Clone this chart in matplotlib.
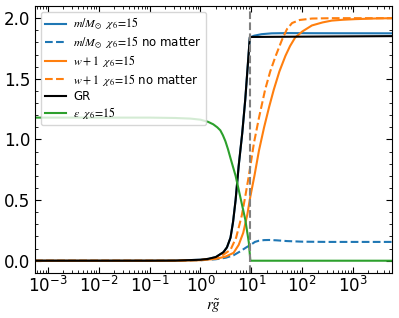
import matplotlib; matplotlib.use('Agg')  # noqa: E702
import matplotlib.pyplot as plt
from matplotlib.ticker import MultipleLocator, LogLocator, NullFormatter

plt.rcParams['mathtext.fontset'] = 'stix'

# log10(r g~) sample points, with curve values
x_black = [-3.25, -1.0, -0.5, 0.0, 0.15, 0.3, 0.45, 0.52, 0.59, 0.64, 0.69, 0.75, 0.82,
           0.88, 0.97, 3.76]
y_black = [0.0, 0.0, 0.001, 0.008, 0.015, 0.03, 0.07, 0.11, 0.19, 0.32, 0.5, 0.78, 1.05,
           1.33, 1.845, 1.852]

x_mass = [-3.25, -1.0, -0.5, 0.0, 0.15, 0.3, 0.45, 0.52, 0.59, 0.64, 0.69, 0.75, 0.82,
          0.88, 0.97, 1.05, 1.2, 1.4, 1.7, 2.2, 3.76]
y_mass = [0.0, 0.0, 0.001, 0.008, 0.015, 0.03, 0.07, 0.11, 0.19, 0.32, 0.5, 0.78, 1.05,
          1.33, 1.84, 1.855, 1.868, 1.875, 1.877, 1.876, 1.875]

x_mass_nm = [-3.25, -0.5, 0.0, 0.3, 0.5, 0.65, 0.78, 0.9, 1.0, 1.07, 1.15, 1.25, 1.35,
             1.5, 1.7, 2.0, 2.5, 3.76]
y_mass_nm = [0.0, 0.0, 0.004, 0.012, 0.025, 0.045, 0.077, 0.11, 0.135, 0.155, 0.165, 0.17,
             0.171, 0.168, 0.162, 0.157, 0.155, 0.155]

x_w = [-3.25, -0.5, 0.0, 0.3, 0.5, 0.65, 0.75, 0.84, 0.92, 0.98, 1.06, 1.15, 1.25, 1.35,
       1.44, 1.55, 1.67, 1.76, 1.86, 2.0, 2.19, 2.4, 2.58, 2.8, 3.04, 3.4, 3.76]
y_w = [0.0, 0.0, 0.004, 0.015, 0.035, 0.065, 0.13, 0.23, 0.38, 0.53, 0.70, 0.91, 1.1,
       1.27, 1.41, 1.56, 1.69, 1.77, 1.84, 1.89, 1.94, 1.965, 1.98, 1.987, 1.992, 1.997, 2.0]

x_w_nm = [-3.25, -0.5, 0.0, 0.3, 0.45, 0.59, 0.7, 0.81, 0.88, 0.95, 1.05, 1.15, 1.27,
          1.37, 1.47, 1.6, 1.7, 1.8, 1.95, 2.19, 2.6, 3.76]
y_w_nm = [0.0, 0.0, 0.006, 0.025, 0.05, 0.09, 0.19, 0.37, 0.53, 0.70, 0.97, 1.18, 1.41,
          1.56, 1.68, 1.82, 1.91, 1.96, 1.985, 1.997, 2.0, 2.0]

x_eps = [-3.25, -1.0, -0.5, -0.2, 0.0, 0.15, 0.25, 0.33, 0.39, 0.44, 0.49, 0.54, 0.59,
         0.69, 0.78, 0.88, 0.95, 0.98, 3.76]
y_eps = [1.18, 1.18, 1.177, 1.172, 1.163, 1.145, 1.125, 1.1, 1.075, 1.035, 0.985, 0.92,
         0.845, 0.70, 0.53, 0.34, 0.15, 0.0, 0.0]

R_SURF = 9.5

fig = plt.figure(figsize=(3.99, 3.18), dpi=100)
ax = fig.add_axes([0.088, 0.142, 0.894, 0.839])


def _r(xs):
    return [10 ** v for v in xs]


ax.plot(_r(x_mass), y_mass, color='C0', lw=1.5, label=r'$m/M_{\odot}\ \ \chi_6\!=\!15$')
ax.plot(_r(x_mass_nm), y_mass_nm, color='C0', lw=1.5, ls='--',
        label=r'$m/M_{\odot}\ \ \chi_6\!=\!15$ no matter')
ax.plot(_r(x_w), y_w, color='C1', lw=1.5, label=r'$w+1\ \ \chi_6\!=\!15$')
ax.plot(_r(x_w_nm), y_w_nm, color='C1', lw=1.5, ls='--',
        label=r'$w+1\ \ \chi_6\!=\!15$ no matter')
ax.plot(_r(x_black), y_black, color='black', lw=1.5, label='GR')
ax.plot(_r(x_eps), y_eps, color='C2', lw=1.5, label=r'$\epsilon\ \ \chi_6\!=\!15$')
ax.axvline(R_SURF, color='gray', ls='--', lw=1.5)

ax.set_xscale('log')
ax.set_xlim(10 ** -3.25, 10 ** 3.76)
ax.set_ylim(-0.1, 2.1)
ax.yaxis.set_major_locator(MultipleLocator(0.5))
ax.yaxis.set_minor_locator(MultipleLocator(0.1))
ax.xaxis.set_major_locator(LogLocator(base=10, numticks=20))
ax.xaxis.set_minor_locator(LogLocator(base=10, subs=range(2, 10), numticks=100))
ax.xaxis.set_minor_formatter(NullFormatter())
ax.tick_params(which='both', direction='in', top=True, right=True, labelsize=12)
ax.tick_params(axis='x', pad=2)
ax.tick_params(which='major', length=4)
ax.tick_params(which='minor', length=2)
ax.set_xlabel(r'$r\tilde{g}$', fontsize=11, labelpad=1)
ax.legend(loc='upper left', fontsize=8.5, handlelength=1.8, handletextpad=0.6,
          labelspacing=0.2, borderpad=0.35, framealpha=0.8)

fig.savefig('out.png', dpi=100)
